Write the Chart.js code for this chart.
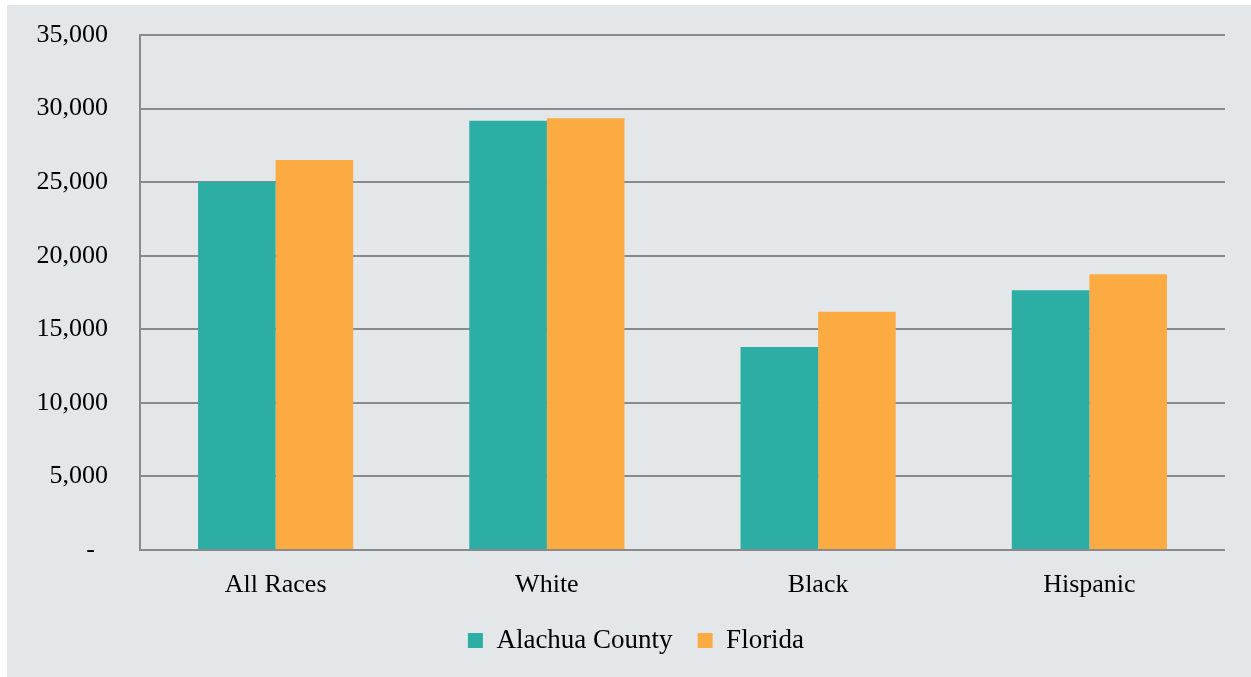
<!DOCTYPE html>
<html>
<head>
<meta charset="utf-8">
<script src="https://cdn.jsdelivr.net/npm/chart.js@4"></script>
<style>
  html, body { margin: 0; padding: 0; background: #ffffff; width: 1251px; height: 677px; overflow: hidden; }
  #wrap { position: absolute; left: 7px; top: 5px; width: 1244px; height: 672px; background: #e3e7ea; }
  canvas { display: block; }
</style>
</head>
<body>
<div id="wrap"><canvas id="c"></canvas></div>
<script>
const categories = ['All Races', 'White', 'Black', 'Hispanic'];
const alachuaValues = [25030, 29180, 13800, 17650];
const floridaValues = [26500, 29340, 16200, 18740];
const seriesNames = ['Alachua County', 'Florida'];
const yTickLabels = { 0: '-  ', 5000: '5,000', 10000: '10,000', 15000: '15,000', 20000: '20,000', 25000: '25,000', 30000: '30,000', 35000: '35,000' };

const FONT = "'Liberation Serif', 'Times New Roman', serif";
const gridColor = '#8a8a8a';

const legendShift = {
  id: 'legendShift',
  afterLayout(chart) {
    if (chart.legend) { chart.legend.left += 20; chart.legend.right += 20; }
  }
};

new Chart(document.getElementById('c'), {
  type: 'bar',
  data: {
    labels: categories,
    datasets: [
      { label: seriesNames[0], data: alachuaValues, backgroundColor: '#2daea4', borderWidth: 0 },
      { label: seriesNames[1], data: floridaValues, backgroundColor: '#fcaa42', borderWidth: 0 }
    ]
  },
  plugins: [legendShift],
  options: {
    responsive: true,
    maintainAspectRatio: false,
    animation: false,
    datasets: { bar: { categoryPercentage: 0.572, barPercentage: 1.0 } },
    layout: { padding: { top: 30, right: 26, bottom: 13, left: 0 } },
    plugins: {
      legend: {
        position: 'bottom',
        labels: {
          color: '#000',
          font: { family: FONT, size: 27 },
          boxWidth: 15,
          boxHeight: 15,
          padding: 25
        }
      },
      tooltip: { enabled: false }
    },
    scales: {
      x: {
        grid: { display: false, drawTicks: false },
        border: { display: false },
        ticks: { color: '#000', font: { family: FONT, size: 26 }, padding: 20, maxRotation: 0 },
        afterFit: (s) => { s.height = 52; }
      },
      y: {
        min: 0, max: 35000,
        afterBuildTicks: (s) => { s.ticks = Object.keys(yTickLabels).map(v => ({ value: +v })); },
        grid: { color: gridColor, lineWidth: 2, drawTicks: false },
        border: { display: true, color: gridColor, width: 2 },
        ticks: {
          color: '#000',
          font: { family: FONT, size: 26 },
          padding: 32,
          callback: (v) => yTickLabels[v]
        },
        afterFit: (s) => { s.width = 133; s.paddingTop = 0; s.paddingBottom = 0; }
      }
    }
  }
});
</script>
</body>
</html>
